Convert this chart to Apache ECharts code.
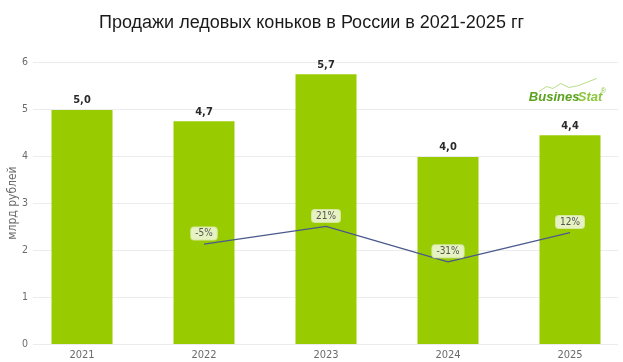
<!DOCTYPE html>
<html><head><meta charset="utf-8">
<script src="https://cdn.jsdelivr.net/npm/echarts@6/dist/echarts.min.js"></script>
<style>html,body{margin:0;padding:0;background:#fff}#c{width:623px;height:362px}</style>
</head><body><div id="c"></div>
<script>
var categories = ['2021', '2022', '2023', '2024', '2025'];
var salesValues = [4.98, 4.74, 5.74, 3.98, 4.44];
var growthValues = [null, -5, 21, -31, 12];
var yTicks = [0, 1, 2, 3, 4, 5, 6];

var condensed = '"DejaVu Sans Condensed", "Roboto Condensed", "Liberation Sans Narrow", sans-serif';
var chart = echarts.init(document.getElementById('c'));
chart.setOption({
  animation: false,
  backgroundColor: '#fff',
  title: {
    text: 'Продажи ледовых коньков в России в 2021-2025 гг',
    left: 'center', top: 9,
    textStyle: { fontFamily: '"Liberation Sans", Arial, sans-serif', fontSize: 18, fontWeight: 'normal', color: '#1a1a1a' }
  },
  grid: [
    { left: 33, right: 5, top: 62, bottom: 18, outerBoundsMode: 'none' },
    { left: 21, width: 610, top: 62, bottom: 18, outerBoundsMode: 'none' }
  ],
  xAxis: [
    { gridIndex: 0, type: 'category', data: categories, show: false },
    { gridIndex: 1, type: 'category', data: categories,
      axisLine: { show: false }, axisTick: { show: false },
      axisLabel: { color: '#6b6b6b', fontFamily: condensed, fontSize: 11, margin: 6 } }
  ],
  yAxis: [
    { gridIndex: 0, type: 'value', min: yTicks[0], max: yTicks[yTicks.length - 1], interval: 1,
      name: 'млрд рублей', nameLocation: 'middle', nameGap: 14, nameMoveOverlap: false,
      nameTextStyle: { color: '#6b6b6b', fontFamily: condensed, fontSize: 12 },
      axisLine: { show: false }, axisTick: { show: false },
      axisLabel: { color: '#6b6b6b', fontFamily: condensed, fontSize: 10.5, margin: 5 },
      splitLine: { lineStyle: { color: '#ececec', width: 1 } } },
    { gridIndex: 1, type: 'value', min: 0, max: 6, show: false },
    { gridIndex: 1, type: 'value', min: -152, max: 263, show: false }
  ],
  series: [
    { type: 'bar', xAxisIndex: 1, yAxisIndex: 1, data: salesValues, barWidth: 61,
      itemStyle: { color: '#99cc00' },
      label: { show: true, position: 'top', distance: 4, color: '#2a2a2a', fontWeight: 'bold',
        fontFamily: condensed, fontSize: 11,
        formatter: function (p) { return p.value.toFixed(1).replace('.', ','); } } },
    { type: 'line', xAxisIndex: 1, yAxisIndex: 2, data: growthValues,
      symbol: 'circle', symbolSize: 1, showSymbol: true,
      itemStyle: { color: 'rgba(0,0,0,0)' },
      lineStyle: { color: '#4a5a8c', width: 1.3 },
      label: { show: true, position: 'top', distance: 4, color: '#555', fontFamily: condensed, fontSize: 10,
        backgroundColor: '#e6f2c2', borderColor: '#d6e8a0', borderWidth: 1, borderRadius: 3,
        padding: [1, 4, 1, 4],
        formatter: function (p) { return p.value + '%'; } } }
  ],
  graphic: [
    { type: 'group', right: 17, top: 76, children: [
      { type: 'polyline', shape: { points: [[10, 13], [18, 8], [24, 10], [32, 5], [40, 9], [50, 7], [60, 3], [68, 0]] },
        style: { stroke: '#a8d46a', lineWidth: 0.8, fill: null } },
      { type: 'text', left: 0, top: 12, style: { text: 'Busines', fill: '#5aa21e',
        font: 'italic bold 13px "Liberation Sans", Arial, sans-serif' } },
      { type: 'text', left: 49, top: 12, style: { text: 'Stat', fill: '#8cc63f',
        font: 'italic bold 13px "Liberation Sans", Arial, sans-serif' } },
      { type: 'text', left: 72, top: 9, style: { text: '®', fill: '#8cc63f', font: '7px sans-serif' } }
    ] }
  ]
});
</script></body></html>
